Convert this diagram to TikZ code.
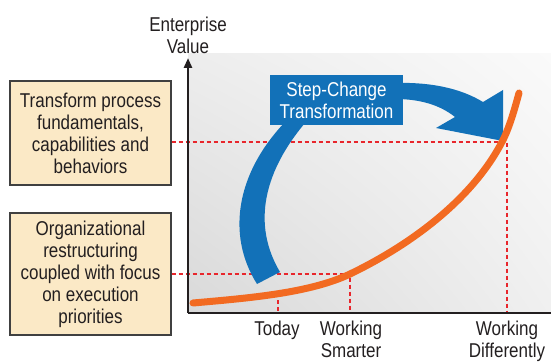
\documentclass[tikz,border=0pt]{standalone}
\usepackage{fontspec}
\setmainfont{Liberation Sans}[FakeStretch=0.85]
\usepackage{tikz}
\usepackage{xcolor}
\usetikzlibrary{positioning,arrows.meta,shadings}

\definecolor{stepblue}{HTML}{1271B8}
\definecolor{curveorange}{HTML}{F26A21}
\definecolor{notefill}{HTML}{FBE9C6}
\definecolor{guidered}{HTML}{E8262C}
\definecolor{axisgray}{HTML}{231F20}

\begin{document}
\begin{tikzpicture}[x=1pt, y=-1pt,
    txt/.style={font=\fontsize{20}{22}\selectfont, align=center, inner sep=0pt, text=axisgray},
    notebox/.style={txt, draw=black!75, line width=1.2pt, fill=notefill, minimum width=161pt},
    guide/.style={guidered, line width=1.1pt, dash pattern=on 4pt off 3pt},
    axis/.style={axisgray, line width=2.6pt}]

    \useasboundingbox (0,0) rectangle (551,363);

    % panel behind the curve
    \shade[lower left=black!15, upper right=black!2, upper left=black!7, lower right=black!6]
        (188,54) rectangle (551,313);

    \coordinate (O) at (188,313);
    \coordinate (ytop) at (188,58);
    \coordinate (xend) at (551,313);

    % points on the curve
    \coordinate (start) at (193,303);
    \coordinate (today) at (278,293);
    \coordinate (smart) at (350,274);
    \coordinate (knee) at (503,140);
    \coordinate (top) at (519,93);
    \coordinate (diff) at (507,142);

    % side notes
    \node[notebox, minimum height=104pt] (upper) at (90.5,133)
        {Transform process\\fundamentals,\\capabilities and\\behaviors};
    \node[notebox, minimum height=122pt] (lower) at (90.5,274)
        {Organizational\\restructuring\\coupled with focus\\on execution\\priorities};

    % guide lines
    \draw[guide] (upper.east |- diff) -- (diff) -- (diff |- O);
    \draw[guide] (lower.east |- smart) -- (smart) -- (smart |- O);
    \draw[guide] (today) -- (today |- O);

    % the step change arrow
    \fill[stepblue] (257,284) .. controls (226,235) and (235,170) .. (292,115)
        -- (312,115) .. controls (262,170) and (252,225) .. (280,272) -- cycle;
    \fill[stepblue] (395,83) .. controls (430,82) and (460,88) .. (483,102)
        -- (503,90) -- (503,141) -- (436,128) -- (455,117)
        .. controls (440,105) and (420,99) .. (395,99) -- cycle;
    \node[txt, fill=stepblue, text=white, minimum width=133pt, minimum height=50pt] (step) at (336.5,100)
        {Step-Change\\Transformation};

    % value curve
    \draw[curveorange, line width=7pt, line cap=round]
        (start) .. controls (250,298) and (310,293) .. (smart)
        .. controls (400,250) and (470,205) .. (knee)
        .. controls (511,124) and (517,100) .. (top);

    % axes
    \draw[axis] (O) -- (xend);
    \draw[axis, -{Triangle[length=10pt, width=8pt]}] (O) -- (ytop);

    \node[txt] (value) at (188,35) {Enterprise\\Value};
    \node[txt, anchor=north] (t1) at (277,321) {Today};
    \node[txt, anchor=north] (t2) at (351,321) {Working\\Smarter};
    \node[txt, anchor=north] (t3) at (507,321) {Working\\Differently};

\end{tikzpicture}
\end{document}
